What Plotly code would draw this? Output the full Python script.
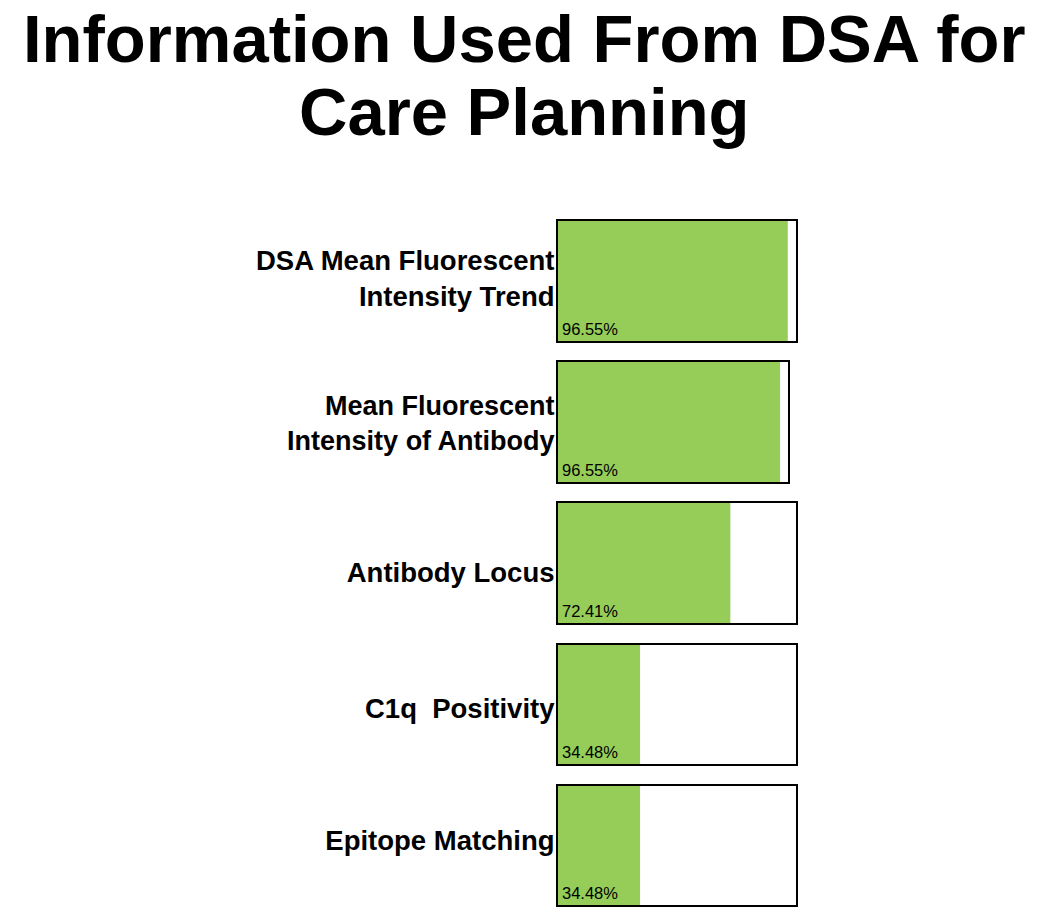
import plotly.graph_objects as go

# ---- data ----
categories = [
    "DSA Mean Fluorescent Intensity Trend",
    "Mean Fluorescent Intensity of Antibody",
    "Antibody Locus",
    "C1q  Positivity",
    "Epitope Matching",
]
tick_labels = [
    "DSA Mean Fluorescent<br>Intensity Trend",
    "Mean Fluorescent<br>Intensity of Antibody",
    "Antibody Locus",
    "C1q&nbsp; Positivity",
    "Epitope Matching",
]
values = [96.55, 96.55, 72.41, 34.48, 34.48]
title_lines = ["Information Used From DSA for", "Care Planning"]

# ---- layout / style ----
OFF = 8  # default page body margin
W, H = 1050 - 2 * OFF, 915 - 2 * OFF
GREEN = "#96CD58"
FONT = "Liberation Sans, Arial, Helvetica, sans-serif"
x_left_px = 558 - OFF
x_right_px = [796 - OFF, 788 - OFF, 796 - OFF, 796 - OFF, 796 - OFF]
rows_px = [(221, 341), (362, 482), (503, 623), (645, 764), (786, 905)]
label_sizes = [27.5, 27, 27.5, 27.5, 27.5]
label_shift = [-3, 1, 9, 4, -5]  # px, positive = downward

fig = go.Figure()
layout = dict(
    width=W, height=H,
    margin=dict(l=0, r=0, t=0, b=0),
    paper_bgcolor="white", plot_bgcolor="white",
    showlegend=False,
    template="none",
    font=dict(family=FONT, color="black"),
)

annotations = []
for i, (cat, lab, v) in enumerate(zip(categories, tick_labels, values)):
    n = "" if i == 0 else str(i + 1)
    xa, ya = "x" + n, "y" + n
    fig.add_trace(go.Bar(
        x=[v], y=[cat], orientation="h", width=1,
        marker=dict(color=GREEN, line=dict(width=0)),
        xaxis=xa, yaxis=ya, hoverinfo="x+y",
    ))
    top, bot = rows_px[i][0] - OFF, rows_px[i][1] - OFF
    layout["xaxis" + n] = dict(
        domain=[x_left_px / W, x_right_px[i] / W], anchor=ya,
        range=[0, 100], showticklabels=False, showgrid=False, zeroline=False,
        showline=True, mirror=True, linecolor="black", linewidth=2, ticks="",
        automargin=False, fixedrange=True,
    )
    layout["yaxis" + n] = dict(
        domain=[1 - bot / H, 1 - top / H], anchor=xa,
        range=[-0.5, 0.5], type="category",
        tickvals=[cat], ticktext=[lab],
        tickfont=dict(size=label_sizes[i], family=FONT, color="black", weight="bold"),
        ticklabelstandoff=-4, ticklabelshift=label_shift[i],
        showgrid=False, zeroline=False,
        showline=True, mirror=True, linecolor="black", linewidth=2, ticks="",
        automargin=False, fixedrange=True,
    )
    annotations.append(dict(
        x=0, y=-0.5, xref=xa, yref=ya, xanchor="left", yanchor="bottom",
        text=f"{v:.2f}%", showarrow=False, xshift=2, yshift=1,
        font=dict(size=16.5, family=FONT, color="black"),
    ))

title_y = [1 - (39 - OFF) / H, 1 - (111 - OFF) / H]
for t, y in zip(title_lines, title_y):
    annotations.append(dict(
        x=516 / W, y=y, xref="paper", yref="paper", xanchor="center", yanchor="middle",
        text=t, showarrow=False,
        font=dict(size=67, family=FONT, color="black", weight="bold"),
    ))

layout["annotations"] = annotations
fig.update_layout(**layout)
fig.write_html("out.html")
